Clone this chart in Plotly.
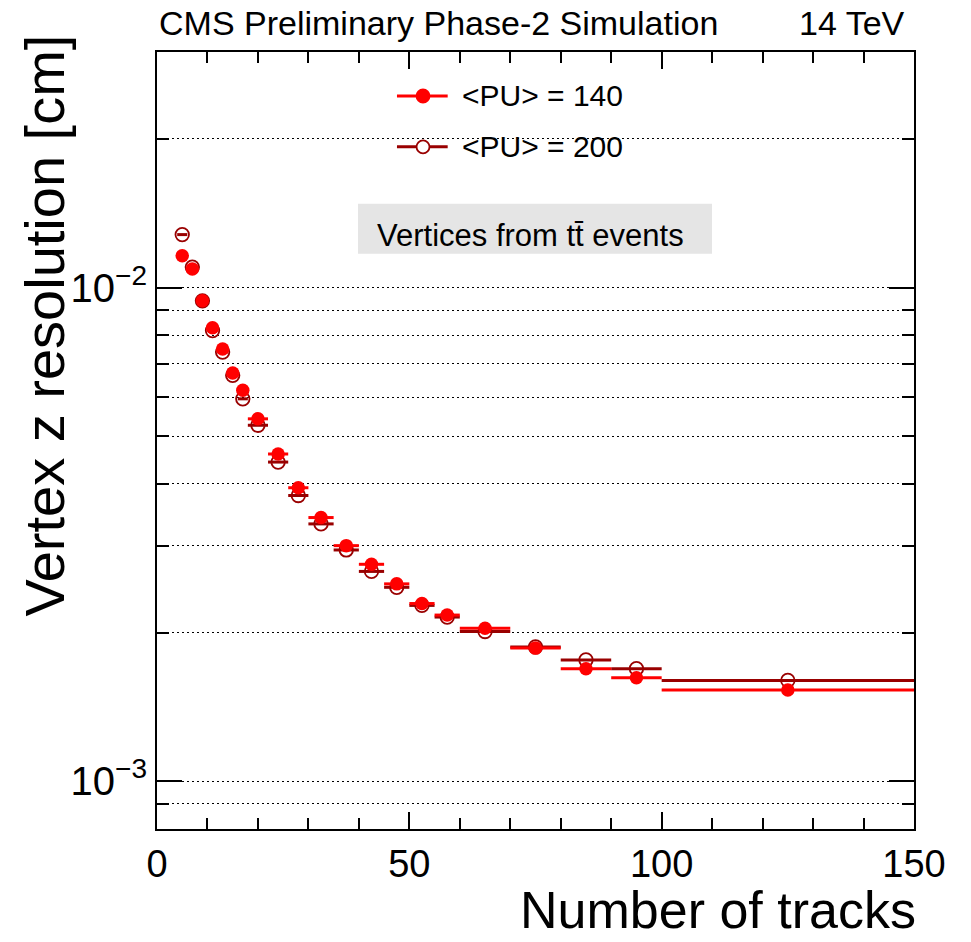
import numpy as np
import plotly.graph_objects as go

# Track-multiplicity bins (edges) and the z-resolution of vertices per bin [cm]
bin_edges = [4, 6, 8, 10, 12, 14, 16, 18, 22, 26, 30, 35, 40, 45, 50, 55, 60, 70, 80, 90, 100, 150]
res_pu140 = [0.0116, 0.0109, 0.0094, 0.00829, 0.00751, 0.00671, 0.00619, 0.00542, 0.00460,
             0.00393, 0.00342, 0.00300, 0.00275, 0.00251, 0.00229, 0.00217, 0.00204,
             0.00186, 0.00169, 0.00162, 0.00153]
res_pu200 = [0.0128, 0.0110, 0.0094, 0.00818, 0.00740, 0.00664, 0.00595, 0.00526, 0.00443,
             0.00379, 0.00332, 0.00294, 0.00266, 0.00247, 0.00227, 0.00215, 0.00201,
             0.00187, 0.00176, 0.00169, 0.00160]

series_labels = ["&lt;PU&gt; = 140", "&lt;PU&gt; = 200"]
x_tick_vals = [0, 50, 100, 150]
y_tick_vals = [1e-3, 1e-2]
y_tick_text = ["10<sup>\u22123</sup>", "10<sup>\u22122</sup>"]
y_minor_vals = [9e-4, 2e-3, 3e-3, 4e-3, 5e-3, 6e-3, 7e-3, 8e-3, 9e-3, 2e-2]

RED = "#ff0000"
DARK = "#990000"
FONT = "Liberation Sans, Arial, Helvetica, sans-serif"

edges = np.array(bin_edges, dtype=float)
centers = 0.5 * (edges[1:] + edges[:-1])
half_w = 0.5 * (edges[1:] - edges[:-1])

fig = go.Figure()

# <PU> = 200 drawn first so that the filled markers sit on top
fig.add_trace(go.Scatter(
    x=centers, y=res_pu200, mode="markers", showlegend=False,
    marker=dict(symbol="circle-open", size=13.5, color=DARK, line=dict(width=1.8, color=DARK)),
    error_x=dict(type="data", array=half_w, color=DARK, thickness=3, width=0),
))
fig.add_trace(go.Scatter(
    x=centers, y=res_pu140, mode="markers", showlegend=False,
    marker=dict(symbol="circle", size=13.5, color=RED),
    error_x=dict(type="data", array=half_w, color=RED, thickness=3, width=0),
))

grid_dash = "2px,3px"

fig.update_xaxes(
    range=[0, 150], tickvals=x_tick_vals, ticks="inside", ticklen=17, tickwidth=2,
    tickcolor="black", showline=True, linewidth=2, linecolor="black", mirror="ticks",
    showgrid=False, zeroline=False,
    tickfont=dict(family=FONT, size=38, color="black"),
    minor=dict(dtick=10, tick0=0, ticks="inside", ticklen=11, tickwidth=2,
               tickcolor="black", showgrid=False),
)
fig.update_yaxes(
    type="log", range=[np.log10(8e-4), np.log10(0.03)],
    tickvals=y_tick_vals, ticktext=y_tick_text,
    ticks="inside", ticklen=25, tickwidth=2, tickcolor="black",
    showline=True, linewidth=2, linecolor="black", mirror="ticks",
    showgrid=True, gridcolor="black", gridwidth=1.3, griddash=grid_dash,
    zeroline=False,
    tickfont=dict(family=FONT, size=40, color="black"),
    minor=dict(tickvals=y_minor_vals, ticks="inside", ticklen=12, tickwidth=2,
               tickcolor="black", showgrid=True, gridcolor="black", gridwidth=1.3,
               griddash=grid_dash),
)

# Hand-built legend (line with marker, then label)
shapes = []
annotations = []
legend_rows = [(0.9434, RED, True), (0.8779, DARK, False)]
lx0, lx1, lxm = 0.317, 0.384, 0.3514
for (ly, col, filled), label in zip(legend_rows, series_labels):
    shapes.append(dict(type="line", xref="paper", yref="paper", x0=lx0, x1=lx1, y0=ly, y1=ly,
                       line=dict(color=col, width=3)))
    shapes.append(dict(type="circle", xref="paper", yref="paper",
                       xsizemode="pixel", ysizemode="pixel", xanchor=lxm, yanchor=ly,
                       x0=-6.5, x1=6.5, y0=-6.5, y1=6.5,
                       fillcolor=col if filled else "white",
                       line=dict(color=col, width=1.8)))
    annotations.append(dict(text=label, xref="paper", yref="paper", x=0.400, y=ly,
                            xanchor="left", yanchor="middle", showarrow=False,
                            font=dict(family=FONT, size=30, color="black")))

# Grey label box
shapes.append(dict(type="rect", xref="paper", yref="paper", x0=0.2655, x1=0.7332,
                   y0=0.7404, y1=0.8046, fillcolor="#e5e5e5", line=dict(width=0), layer="below"))
annotations.append(dict(text="Vertices from tt\u0304 events", xref="paper", yref="paper",
                        x=0.494, y=0.764, xanchor="center", yanchor="middle", showarrow=False,
                        font=dict(family=FONT, size=31, color="black")))

# Header texts
annotations.append(dict(text="CMS Preliminary Phase-2 Simulation", xref="paper", yref="paper",
                        x=0.0, y=1.0373, xanchor="left", yanchor="middle", showarrow=False,
                        font=dict(family=FONT, size=34, color="black")))
annotations.append(dict(text="14 TeV", xref="paper", yref="paper",
                        x=0.9908, y=1.0373, xanchor="right", yanchor="middle", showarrow=False,
                        font=dict(family=FONT, size=34, color="black")))

# Axis titles
annotations.append(dict(text="Number of tracks", xref="paper", yref="paper",
                        x=1.005, y=-0.104, xanchor="right", yanchor="middle", showarrow=False,
                        font=dict(family=FONT, size=52, color="black")))
annotations.append(dict(text="Vertex z resolution [cm]", xref="paper", yref="paper",
                        x=-0.148, y=0.6478, xanchor="center", yanchor="middle", textangle=-90,
                        showarrow=False, font=dict(family=FONT, size=56, color="black")))

fig.update_layout(
    width=971, height=942,
    margin=dict(l=157, r=57, t=52, b=113),
    paper_bgcolor="white", plot_bgcolor="white",
    shapes=shapes, annotations=annotations, showlegend=False,
)

fig.write_html("out.html")
